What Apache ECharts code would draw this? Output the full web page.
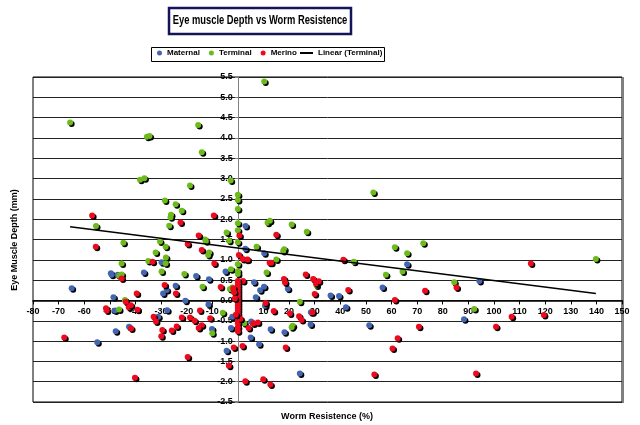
<!DOCTYPE html>
<html><head><meta charset="utf-8">
<script src="https://cdn.jsdelivr.net/npm/echarts@6/dist/echarts.min.js"></script>
<style>html,body{margin:0;padding:0;background:#fff}#c{width:640px;height:425px}</style>
</head><body><div id="c"></div>
<script>
const titleText = 'Eye muscle Depth vs Worm Resistence';
const xName = 'Worm Resistence (%)';
const yName = 'Eye Muscle Depth (mm)';
const seriesNames = ['Maternal', 'Terminal', 'Merino', 'Linear (Terminal)'];
const xTickLabels = [-80,-70,-60,-50,-40,-30,-20,-10,0,10,20,30,40,50,60,70,80,90,100,110,120,130,140,150];
const yTickLabels = [-2.5,-2.0,-1.5,-1.0,-0.5,0.0,0.5,1.0,1.5,2.0,2.5,3.0,3.5,4.0,4.5,5.0,5.5];

const maternal = [
[3.0,1.83],[-64.9,0.30],[-49.6,0.67],[-48.6,0.08],[-48.0,-0.25],[-47.7,-0.76],[-54.9,-1.03],[-42.5,-0.65],
[-36.7,0.69],[-29.8,0.94],[-29.2,0.17],[-27.8,0.26],[-27.6,-0.24],[-24.3,0.36],[-20.5,-0.01],[-16.3,0.60],
[-11.3,0.52],[-11.5,-0.10],[-10.1,-0.70],[-4.8,0.71],[-2.2,-0.40],[-2.7,-0.68],[-4.4,-1.24],[2.9,1.27],
[3.4,1.00],[6.3,0.45],[7.0,0.08],[8.7,0.25],[10.2,0.34],[10.3,1.16],[10.6,-0.13],[5.0,-0.91],[8.3,-1.08],
[12.8,-0.71],[19.5,0.29],[18.2,-0.78],[24.2,-1.80],[28.4,-0.59],[28.5,-0.29],[36.2,0.12],[39.5,0.11],
[42.2,-0.17],[56.5,0.32],[66.1,0.89],[51.3,-0.61],[88.3,-0.46],[94.3,0.48],[5.2,-0.52],[-49.3,0.63],
[-31.1,-0.40],[-46.9,0.63]
];
const terminal = [
[-65.5,4.38],[-35.5,4.03],[-34.5,4.05],[-15.5,4.32],[-14.1,3.65],[-38.2,2.97],[-36.5,3.01],[-18.7,2.83],
[-2.8,2.95],[10.3,5.39],[-28.5,2.46],[-24.3,2.37],[-21.9,2.21],[-26.1,2.11],[-26.3,2.05],[-26.8,1.84],
[-55.4,1.83],[0,2.60],[0,2.47],[0,2.25],[0,1.90],[0,1.73],[-4.4,1.67],[11.6,1.91],[12.5,1.96],[21.0,1.87],
[26.9,1.69],[-12.8,1.50],[-3.4,1.47],[-44.7,1.42],[-45.4,0.91],[-46.3,0.61],[-45.4,0.64],[-30.4,1.45],
[-28.2,1.32],[-32.1,1.18],[-28.1,1.06],[-35.0,0.97],[-28.2,0.91],[-29.8,0.71],[-20.9,0.65],[-13.8,0.34],
[-12.5,1.46],[-11.2,1.18],[-11.6,1.12],[0,1.43],[0,0.89],[-2.7,0.77],[0,0.72],[0,0.65],[-3.1,0.28],
[-2.2,0.32],[-5.9,-0.30],[-10.0,-0.81],[-44.1,0.01],[-46.4,-0.22],[7.3,1.32],[15.0,1.01],[11.2,0.69],
[18.1,1.26],[17.7,1.22],[24.2,-0.03],[21.4,-0.62],[21.0,-0.66],[30.7,0.37],[2.5,-0.56],
[52.9,2.66],[45.3,0.95],[61.3,1.31],[66.1,1.16],[72.4,1.41],[64.3,0.71],[57.8,0.63],[84.5,0.45],
[92.3,-0.21],[139.8,1.02]
];
const merino = [
[-56.9,2.09],[-22.4,1.92],[-9.4,2.09],[-15.3,1.60],[0.6,1.60],[15.0,1.62],[-55.5,1.32],[-19.6,1.39],
[-14.1,1.24],[-9.2,0.91],[-33.3,0.95],[-45.4,0.54],[-39.5,0.17],[-28.6,0.38],[-24.2,0.17],[-6.7,0.33],
[-51.5,-0.19],[-51.2,-0.25],[-43.8,-0.03],[-42.6,-0.17],[-41.8,-0.12],[-39.2,-0.23],[-41.7,-0.69],
[-67.8,-0.91],[-40.2,-1.90],[-32.9,-0.40],[-32.0,-0.52],[-29.5,-0.73],[-29.9,-0.88],[-25.8,-0.74],
[-23.9,-0.64],[-21.9,-0.42],[-18.7,-0.42],[-16.9,-0.50],[-14.8,-0.25],[-14.1,-0.61],[-15.3,-0.68],
[-10.8,-0.44],[-19.6,-1.39],[-3.5,-1.61],[-1.6,-1.16],[1.8,-1.12],[2.9,-1.99],[9.9,-1.94],[12.7,-2.07],
[4.2,-0.68],[6.0,-0.57],[7.8,-0.54],[10.8,-0.06],[14.0,-0.26],[18.7,-1.16],[23.9,-0.39],[24.9,-0.48],
[20.3,-0.32],[26.5,0.64],[29.4,0.53],[30.5,0.42],[31.6,0.47],[30.0,0.16],[29.1,-0.29],[18.0,0.53],
[18.4,0.44],[12.4,0.93],[13.0,0.93],[0.4,1.12],[1.9,1.02],[3.8,1.01],[2.0,0.48],[41.2,1.00],[43.1,0.26],
[61.3,0.01],[73.1,0.24],[85.4,0.32],[70.7,-0.65],[62.4,-0.93],[60.4,-1.18],[53.3,-1.82],[114.4,0.91],
[100.8,-0.65],[106.9,-0.40],[119.5,-0.36],[93.0,-1.80],
[0,0.48],[0,0.42],[0,0.36],[0,0.30],[0,0.24],[0,0.18],[0,0.12],[0,0.06],[0,0.0],[0,-0.06],[0,-0.12],
[0,-0.18],[0,-0.25],[0,-0.32],[0,-0.40],[0,-0.48],[0,-0.56],[0,-0.66],[0,-0.76],[-1.8,0.30],[-1.5,0.20],
[-1.2,0.05],[1.0,-0.45],[-0.8,-0.35]
];
// Linear (Terminal) trendline: y = intercept + slope * x
const trendSlope = -0.0080;
const trendIntercept = 1.288;

const colors = ['#4466b0', '#6cbb1a', '#ee0a1e', '#000000'];

const tx = terminal.map(p => p[0]);
const trendX = [Math.min(...tx), Math.max(...tx)];
const trend = trendX.map(x => [x, trendIntercept + trendSlope * x]);

const font = "'Liberation Sans', Arial, sans-serif";

// grid box
const G = { left: 33, right: 18, top: 77, bottom: 23 };
const W = 640, H = 425;
const gw = W - G.left - G.right, gh = H - G.top - G.bottom;
const xMin = xTickLabels[0], xMax = xTickLabels[xTickLabels.length - 1];
const yMin = yTickLabels[0], yMax = yTickLabels[yTickLabels.length - 1];
// axes cross at zero
const xAxisOffset = -gh * (0 - yMin) / (yMax - yMin);
const yAxisOffset = -gw * (0 - xMin) / (xMax - xMin);

function scatter(name, data, color) {
  return {
    name, type: 'scatter', data, symbol: 'circle', symbolSize: 6,
    itemStyle: { color, opacity: 1, shadowColor: '#000', shadowBlur: 0, shadowOffsetX: 1.5, shadowOffsetY: 1.5 },
    emphasis: { disabled: true }
  };
}

const chart = echarts.init(document.getElementById('c'), null, { renderer: 'canvas' });
chart.setOption({
  animation: false,
  backgroundColor: '#fff',
  legend: [{
    data: seriesNames.slice(0, 3).map(n => ({ name: n, icon: 'circle' })),
    left: 157, top: 49, itemWidth: 5, itemHeight: 5, itemGap: 9, padding: 0,
    textStyle: { fontFamily: font, fontSize: 8, fontWeight: 'bold', color: '#000' },
    selectedMode: false
  }, {
    data: [{ name: seriesNames[3], icon: 'rect' }],
    left: 300, top: 49, itemWidth: 13, itemHeight: 2, padding: 0,
    textStyle: { fontFamily: font, fontSize: 8, fontWeight: 'bold', color: '#000' },
    selectedMode: false
  }],
  graphic: [
    { type: 'rect', shape: { x: 169, y: 8, width: 182, height: 26 }, style: { fill: '#fff', stroke: '#14145a', lineWidth: 2.5 } },
    { type: 'text', x: 260, y: 21, scaleX: 0.78, style: { text: titleText, font: "bold 12px 'Liberation Sans', Arial", fill: '#000', textAlign: 'center', textVerticalAlign: 'middle' } },
    { type: 'rect', shape: { x: 151.5, y: 47.5, width: 233, height: 14 }, style: { fill: 'none', stroke: '#000', lineWidth: 1 } },
    { type: 'line', shape: { x1: 623, y1: 77, x2: 623, y2: 403 }, style: { stroke: '#808080', lineWidth: 2 } },
    { type: 'text', x: 327, y: 417, style: { text: xName, font: "bold 9px 'Liberation Sans', Arial", fill: '#000', textAlign: 'center', textVerticalAlign: 'middle' } },
    { type: 'text', x: 15, y: 240, rotation: Math.PI / 2, style: { text: yName, font: "bold 9px 'Liberation Sans', Arial", fill: '#000', textAlign: 'center', textVerticalAlign: 'middle' } }
  ],
  grid: { left: G.left, right: G.right, top: G.top, bottom: G.bottom, show: true, borderColor: '#000', borderWidth: 1, backgroundColor: '#fff' },
  xAxis: {
    type: 'value', min: xMin, max: xMax, interval: xTickLabels[1] - xTickLabels[0],
    position: 'bottom', offset: xAxisOffset,
    axisLine: { onZero: false, lineStyle: { color: '#000', width: 1.5 } },
    axisTick: { show: true, length: 4, lineStyle: { color: '#000' } },
    axisLabel: { fontFamily: font, fontSize: 9, fontWeight: 'bold', color: '#000', margin: 7 },
    splitLine: { show: false }
  },
  yAxis: {
    type: 'value', min: yMin, max: yMax, interval: yTickLabels[1] - yTickLabels[0],
    position: 'left', offset: yAxisOffset,
    axisLine: { onZero: false, lineStyle: { color: '#808080', width: 1 } },
    axisTick: { show: true, length: 3, lineStyle: { color: '#808080' } },
    axisLabel: { fontFamily: font, fontSize: 9, fontWeight: 'bold', color: '#000', margin: 5, formatter: v => v.toFixed(1) },
    splitLine: { show: true, lineStyle: { color: '#222', width: 1 } }
  },
  series: [
    scatter(seriesNames[0], maternal, colors[0]),
    scatter(seriesNames[1], terminal, colors[1]),
    scatter(seriesNames[2], merino, colors[2]),
    { name: seriesNames[3], type: 'line', data: trend, symbol: 'none', showSymbol: false,
      lineStyle: { color: '#000', width: 1.5 }, itemStyle: { color: '#000' }, z: 5, emphasis: { disabled: true } }
  ]
});
</script></body></html>
